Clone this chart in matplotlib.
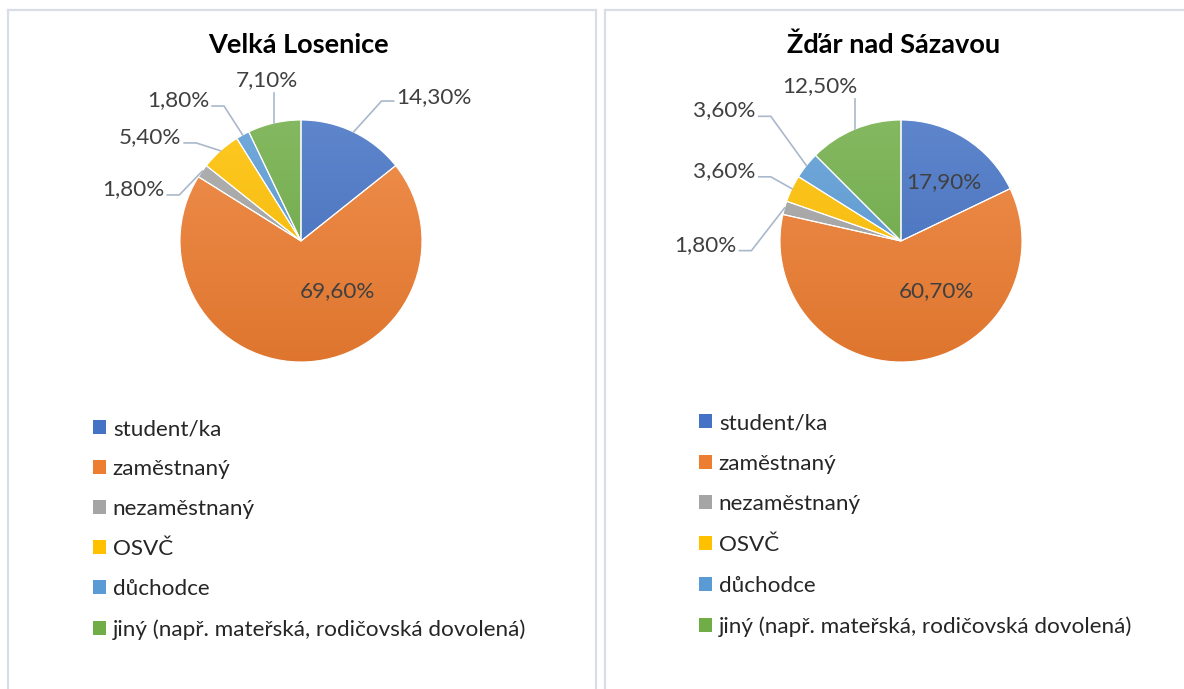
import numpy as np
import matplotlib
matplotlib.use("Agg")
import matplotlib.pyplot as plt
from matplotlib.patches import Patch
from matplotlib.colors import to_rgb, LinearSegmentedColormap

plt.rcParams['font.family'] = ['Lato', 'DejaVu Sans']

# data
categories = ['student/ka', 'zaměstnaný', 'nezaměstnaný', 'OSVČ', 'důchodce',
              'jiný (např. mateřská, rodičovská dovolená)']
titles = ['Velká Losenice', 'Žďár nad Sázavou']
velka_losenice = [14.3, 69.6, 1.8, 5.4, 1.8, 7.1]
zdar_nad_sazavou = [17.9, 60.7, 1.8, 3.6, 3.6, 12.5]

colors = ['#4472C4', '#ED7D31', '#A5A5A5', '#FFC000', '#5B9BD5', '#70AD47']

W, H = 1184, 689
R = 121.0  # pie radius, px

# label placement per wedge: mode and anchor (in pie-radius units from centre)
layout_vl = [('R', 0.79, 1.19), ('in', 0.30, -0.41), ('L', -1.13, 0.43),
             ('L', -0.99, 0.86), ('L', -0.76, 1.165), ('T', -0.28, 1.25)]
layout_zs = [('in', 0.35, 0.49), ('in', 0.29, -0.41), ('L', -1.36, -0.03),
             ('L', -1.20, 0.58), ('L', -1.20, 1.08), ('T', -0.67, 1.20)]

# panel geometry in px: left, right, top, pie centre x, y, legend x, y
panels = [
    dict(left=8, right=596, top=10, cx=301, cy=241, lx=93, ly=419, sp=0.89,
         spines=['left', 'right', 'top']),
    dict(left=605, right=1190, top=10, cx=901, cy=241, lx=699, ly=413, sp=0.92,
         spines=['left', 'top']),
]

border = '#D9DEE6'
leader = '#AAB8CB'
txt = '#404040'
fs = 16.2


def mix(c, other, t):
    c = np.array(to_rgb(c))
    return tuple(c * (1 - t) + np.array(other) * t)


fig = plt.figure(figsize=(W / 100, H / 100), dpi=100)

for values, title, lay, p in zip([velka_losenice, zdar_nad_sazavou], titles,
                                 [layout_vl, layout_zs], panels):
    ax = fig.add_axes([p['left'] / W, 0, (p['right'] - p['left']) / W,
                       (H - p['top']) / H])
    wedges, _ = ax.pie(values, colors=colors, startangle=90, counterclock=False,
                       radius=1, frame=True,
                       wedgeprops=dict(edgecolor='white', linewidth=0.8))
    grad = np.linspace(0, 1, 256).reshape(-1, 1)
    for w, c in zip(wedges, colors):
        cmap = LinearSegmentedColormap.from_list('g', [mix(c, (1, 1, 1), 0.14),
                                                       mix(c, (0, 0, 0), 0.06)])
        im = ax.imshow(grad, extent=(-1, 1, -1, 1), cmap=cmap, origin='upper',
                       zorder=1, interpolation='bilinear')
        im.set_clip_path(w)
        w.set_facecolor('none')
        w.set_zorder(2)

    px = 1 / R
    for w, v, (mode, x, y) in zip(wedges, values, lay):
        label = f'{v:.2f}'.replace('.', ',') + '%'
        ang = np.deg2rad((w.theta1 + w.theta2) / 2)
        ex, ey = np.cos(ang), np.sin(ang)
        if mode == 'in':
            ax.text(x, y, label, ha='center', va='center', fontsize=fs,
                    color=txt, zorder=4)
        elif mode == 'L':
            ax.text(x, y, label, ha='right', va='center', fontsize=fs,
                    color=txt, zorder=4)
            sy = y - 6 * px
            ax.plot([x + 3 * px, x + 15 * px, ex], [sy, sy, ey], color=leader,
                    lw=1.2, zorder=3, solid_joinstyle='miter')
        elif mode == 'R':
            ax.text(x, y, label, ha='left', va='center', fontsize=fs,
                    color=txt, zorder=4)
            sy = y - 4 * px
            ax.plot([x - 3 * px, x - 15 * px, ex], [sy, sy, ey], color=leader,
                    lw=1.2, zorder=3, solid_joinstyle='miter')
        else:
            ax.text(x, y, label, ha='center', va='bottom', fontsize=fs,
                    color=txt, zorder=4)
            ax.plot([ex, ex], [y - 3 * px, ey], color=leader, lw=1.2, zorder=3)

    ax.text((p['left'] + p['right']) / 2 / R - p['cx'] / R - 4 * px,
            (p['cy'] - 45) / R, title, ha='center', va='center',
            fontsize=19.5, fontweight='bold', color='black')

    ax.set_xlim((p['left'] - p['cx']) / R, (p['right'] - p['cx']) / R)
    ax.set_ylim((p['cy'] - H) / R, (p['cy'] - p['top']) / R)
    ax.set_aspect('auto')
    ax.set_xticks([])
    ax.set_yticks([])
    for side, sp in ax.spines.items():
        sp.set_visible(side in p['spines'])
        sp.set_color(border)
        sp.set_linewidth(1.6)

    handles = [Patch(facecolor=c, edgecolor='none') for c in colors]
    ax.legend(handles, categories, loc='upper left',
              bbox_to_anchor=(p['lx'] / W, 1 - p['ly'] / H),
              bbox_transform=fig.transFigure, frameon=False, fontsize=fs,
              handlelength=0.58, handleheight=0.58, handletextpad=0.3,
              labelspacing=p['sp'], borderpad=0, borderaxespad=0,
              labelcolor='#262626')

fig.savefig('out.png', dpi=100, facecolor='white')
